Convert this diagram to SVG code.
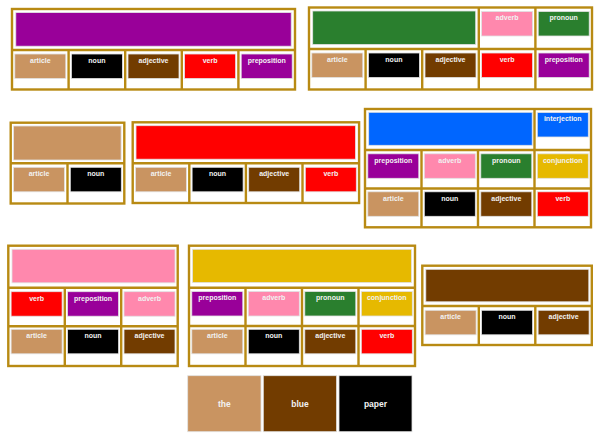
<svg xmlns="http://www.w3.org/2000/svg" width="600" height="439" viewBox="0 0 600 439">
<style>
.fr{fill:#fff;stroke:#B88A13;stroke-width:2.4}
.ln{stroke:#B88A13;stroke-width:2.4;fill:none}
.sw{stroke:#e2e2e2;stroke-width:0.8}
.t{font-family:"Liberation Sans",Arial,sans-serif;font-weight:bold;font-size:7px;fill:#f2f2f2;text-anchor:middle}
.tb{font-family:"Liberation Sans",Arial,sans-serif;font-weight:bold;font-size:8.5px;fill:#f2f2f2;text-anchor:middle}
.art{fill:#C99461}.nou{fill:#000}.adj{fill:#723C00}.vrb{fill:#FF0000}.pre{fill:#990099}
.adv{fill:#FF88AD}.pro{fill:#2A7F2E}.con{fill:#E6B900}.int{fill:#0066FF}
</style>
<rect width="600" height="439" fill="#fff"/>

<g id="board-preposition">
<rect class="fr" x="12" y="9" width="283" height="80.5"/>
<path class="ln" d="M12 50H295M68.6 50V89.5M125.2 50V89.5M181.8 50V89.5M238.4 50V89.5"/>
<rect class="pre sw" x="15.8" y="12.6" width="275.4" height="33.6"/>
<rect class="art sw" x="14.8" y="54" width="51" height="24.5"/><text class="t" x="40.3" y="62.8">article</text>
<rect class="nou sw" x="71.4" y="54" width="51" height="24.5"/><text class="t" x="96.9" y="62.8">noun</text>
<rect class="adj sw" x="128" y="54" width="51" height="24.5"/><text class="t" x="153.5" y="62.8">adjective</text>
<rect class="vrb sw" x="184.6" y="54" width="51" height="24.5"/><text class="t" x="210.1" y="62.8">verb</text>
<rect class="pre sw" x="241.2" y="54" width="51" height="24.5"/><text class="t" x="266.7" y="62.8">preposition</text>
</g>

<g id="board-pronoun">
<rect class="fr" x="309" y="7.5" width="283" height="82"/>
<path class="ln" d="M309 49H592M478.8 7.5V89.5M535.4 7.5V89.5M365.6 49V89.5M422.2 49V89.5"/>
<rect class="pro sw" x="312.7" y="11" width="163" height="33.5"/>
<rect class="adv sw" x="481.6" y="11.5" width="51" height="24.5"/><text class="t" x="507.1" y="20.3">adverb</text>
<rect class="pro sw" x="538.2" y="11.5" width="51" height="24.5"/><text class="t" x="563.7" y="20.3">pronoun</text>
<rect class="art sw" x="311.8" y="53" width="51" height="24.5"/><text class="t" x="337.3" y="61.8">article</text>
<rect class="nou sw" x="368.4" y="53" width="51" height="24.5"/><text class="t" x="393.9" y="61.8">noun</text>
<rect class="adj sw" x="425" y="53" width="51" height="24.5"/><text class="t" x="450.5" y="61.8">adjective</text>
<rect class="vrb sw" x="481.6" y="53" width="51" height="24.5"/><text class="t" x="507.1" y="61.8">verb</text>
<rect class="pre sw" x="538.2" y="53" width="51" height="24.5"/><text class="t" x="563.7" y="61.8">preposition</text>
</g>

<g id="board-article">
<rect class="fr" x="10.7" y="122.7" width="113.6" height="80.8"/>
<path class="ln" d="M10.7 163.3H124.3M67.5 163.3V203.5"/>
<rect class="art sw" x="13.6" y="126" width="107.5" height="34"/>
<rect class="art sw" x="13.5" y="167.3" width="51" height="24.5"/><text class="t" x="39" y="176.1">article</text>
<rect class="nou sw" x="70.3" y="167.3" width="51" height="24.5"/><text class="t" x="95.8" y="176.1">noun</text>
</g>

<g id="board-verb">
<rect class="fr" x="132.7" y="122.3" width="226.4" height="80.7"/>
<path class="ln" d="M132.7 163.3H359.1M189.3 163.3V203M245.9 163.3V203M302.5 163.3V203"/>
<rect class="vrb sw" x="136" y="125.7" width="219.5" height="33.5"/>
<rect class="art sw" x="135.5" y="167.3" width="51" height="24.5"/><text class="t" x="161" y="176.1">article</text>
<rect class="nou sw" x="192.1" y="167.3" width="51" height="24.5"/><text class="t" x="217.6" y="176.1">noun</text>
<rect class="adj sw" x="248.7" y="167.3" width="51" height="24.5"/><text class="t" x="274.2" y="176.1">adjective</text>
<rect class="vrb sw" x="305.3" y="167.3" width="51" height="24.5"/><text class="t" x="330.8" y="176.1">verb</text>
</g>

<g id="board-interjection">
<rect class="fr" x="365" y="109" width="226" height="118.3"/>
<path class="ln" d="M365 150H591M365 188.5H591M534.5 109V227.3M421.5 150V227.3M478 150V227.3"/>
<rect class="int sw" x="368.7" y="112.3" width="163.5" height="33"/>
<rect class="int sw" x="537.3" y="112.5" width="51" height="24.5"/><text class="t" x="562.8" y="121.3">interjection</text>
<rect class="pre sw" x="367.8" y="153.8" width="51" height="24.5"/><text class="t" x="393.3" y="162.6">preposition</text>
<rect class="adv sw" x="424.3" y="153.8" width="51" height="24.5"/><text class="t" x="449.8" y="162.6">adverb</text>
<rect class="pro sw" x="480.8" y="153.8" width="51" height="24.5"/><text class="t" x="506.3" y="162.6">pronoun</text>
<rect class="con sw" x="537.3" y="153.8" width="51" height="24.5"/><text class="t" x="562.8" y="162.6">conjunction</text>
<rect class="art sw" x="367.8" y="191.8" width="51" height="24.5"/><text class="t" x="393.3" y="200.6">article</text>
<rect class="nou sw" x="424.3" y="191.8" width="51" height="24.5"/><text class="t" x="449.8" y="200.6">noun</text>
<rect class="adj sw" x="480.8" y="191.8" width="51" height="24.5"/><text class="t" x="506.3" y="200.6">adjective</text>
<rect class="vrb sw" x="537.3" y="191.8" width="51" height="24.5"/><text class="t" x="562.8" y="200.6">verb</text>
</g>

<g id="board-adverb">
<rect class="fr" x="8.3" y="245.7" width="169.4" height="120.3"/>
<path class="ln" d="M8.3 287.7H177.7M8.3 326.3H177.7M64.8 287.7V366M121.2 287.7V366"/>
<rect class="adv sw" x="12" y="249.3" width="163" height="33.5"/>
<rect class="vrb sw" x="11.1" y="291.7" width="51" height="24.5"/><text class="t" x="36.6" y="300.5">verb</text>
<rect class="pre sw" x="67.6" y="291.7" width="51" height="24.5"/><text class="t" x="93.1" y="300.5">preposition</text>
<rect class="adv sw" x="124" y="291.7" width="51" height="24.5"/><text class="t" x="149.5" y="300.5">adverb</text>
<rect class="art sw" x="11.1" y="329.3" width="51" height="24.5"/><text class="t" x="36.6" y="338.1">article</text>
<rect class="nou sw" x="67.6" y="329.3" width="51" height="24.5"/><text class="t" x="93.1" y="338.1">noun</text>
<rect class="adj sw" x="124" y="329.3" width="51" height="24.5"/><text class="t" x="149.5" y="338.1">adjective</text>
</g>

<g id="board-conjunction">
<rect class="fr" x="189" y="245.7" width="226" height="120.3"/>
<path class="ln" d="M189 287.7H415M189 326H415M245.5 287.7V366M302 287.7V366M358.5 287.7V366"/>
<rect class="con sw" x="192.5" y="249.3" width="219" height="33.3"/>
<rect class="pre sw" x="191.8" y="291.5" width="51" height="24.5"/><text class="t" x="217.3" y="300.3">preposition</text>
<rect class="adv sw" x="248.3" y="291.5" width="51" height="24.5"/><text class="t" x="273.8" y="300.3">adverb</text>
<rect class="pro sw" x="304.8" y="291.5" width="51" height="24.5"/><text class="t" x="330.3" y="300.3">pronoun</text>
<rect class="con sw" x="361.3" y="291.5" width="51" height="24.5"/><text class="t" x="386.8" y="300.3">conjunction</text>
<rect class="art sw" x="191.8" y="329.3" width="51" height="24.5"/><text class="t" x="217.3" y="338.1">article</text>
<rect class="nou sw" x="248.3" y="329.3" width="51" height="24.5"/><text class="t" x="273.8" y="338.1">noun</text>
<rect class="adj sw" x="304.8" y="329.3" width="51" height="24.5"/><text class="t" x="330.3" y="338.1">adjective</text>
<rect class="vrb sw" x="361.3" y="329.3" width="51" height="24.5"/><text class="t" x="386.8" y="338.1">verb</text>
</g>

<g id="board-adjective">
<rect class="fr" x="422.3" y="265.7" width="169.5" height="79.3"/>
<path class="ln" d="M422.3 306H591.8M478.8 306V345M535.3 306V345"/>
<rect class="adj sw" x="425.8" y="269.3" width="163" height="32.5"/>
<rect class="art sw" x="425.1" y="310.3" width="51" height="24.5"/><text class="t" x="450.6" y="319.1">article</text>
<rect class="nou sw" x="481.6" y="310.3" width="51" height="24.5"/><text class="t" x="507.1" y="319.1">noun</text>
<rect class="adj sw" x="538.1" y="310.3" width="51" height="24.5"/><text class="t" x="563.6" y="319.1">adjective</text>
</g>

<g id="card-the"><rect class="art sw" x="187.7" y="375.7" width="73.3" height="56"/><text class="tb" x="224.3" y="407.3">the</text></g>
<g id="card-blue"><rect class="adj sw" x="263.3" y="375.7" width="73.3" height="56"/><text class="tb" x="300" y="407.3">blue</text></g>
<g id="card-paper"><rect class="nou sw" x="339" y="375.7" width="73" height="56"/><text class="tb" x="375.5" y="407.3">paper</text></g>
</svg>
